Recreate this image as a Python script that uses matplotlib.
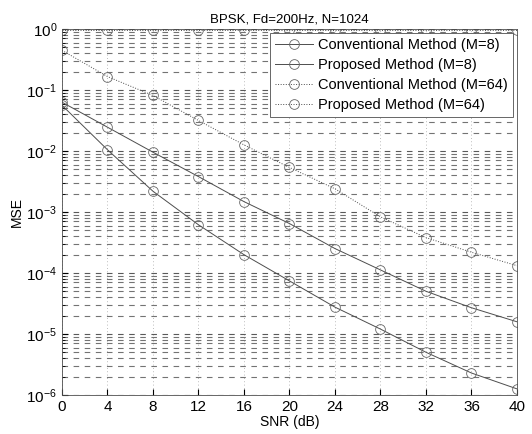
import numpy as np
import matplotlib
matplotlib.use("Agg")
import matplotlib.pyplot as plt
from matplotlib.ticker import LogLocator, NullFormatter

plt.rcParams["font.family"] = ["Liberation Sans", "DejaVu Sans"]

snr = [0, 4, 8, 12, 16, 20, 24, 28, 32, 36, 40]

# log10(MSE)
conv_m8 = [-1.20, -1.61, -2.02, -2.42, -2.83, -3.19, -3.60, -3.95, -4.30, -4.57, -4.80]
prop_m8 = [-1.25, -1.98, -2.66, -3.21, -3.70, -4.13, -4.56, -4.92, -5.30, -5.64, -5.90]
conv_m64 = [-0.01, -0.01, -0.01, -0.01, -0.01, -0.01, -0.01, -0.01, -0.01, -0.01, -0.01]
prop_m64 = [-0.35, -0.78, -1.09, -1.50, -1.90, -2.27, -2.62, -3.08, -3.42, -3.66, -3.88]

labels = ["Conventional Method (M=8)", "Proposed Method (M=8)",
          "Conventional Method (M=64)", "Proposed Method (M=64)"]

fig = plt.figure(figsize=(5.32, 4.34), dpi=100)
ax = fig.add_axes([0.1165, 0.0899, 0.8553, 0.8433])

x = np.array(snr)
series = [conv_m8, prop_m8, conv_m64, prop_m64]
styles = ["-", "-", ":", ":"]
for vals, ls, lab in zip(series, styles, labels):
    ax.semilogy(x, 10 ** np.array(vals), linestyle=ls, color="0.3", lw=0.7,
                marker="o", markersize=7, markerfacecolor="none",
                markeredgecolor="0.4", markeredgewidth=0.6, label=lab)

ax.set_xlim(0, 40)
ax.set_ylim(1e-6, 1)
ax.set_xticks(snr)
ax.yaxis.set_major_locator(LogLocator(base=10, numticks=10))
ax.yaxis.set_minor_locator(LogLocator(base=10, subs=np.arange(2, 10), numticks=10))
ax.yaxis.set_minor_formatter(NullFormatter())
ax.tick_params(axis="both", which="major", labelsize=11, direction="in", length=4)
ax.tick_params(axis="y", which="minor", direction="in", length=2)

ax.grid(True, which="major", axis="y", color="0.35", linestyle=(0, (5, 5)), lw=0.8)
ax.grid(True, which="minor", axis="y", color="0.45", linestyle=(0, (5, 5)), lw=0.8)
ax.grid(True, which="major", axis="x", color="0.65", linestyle=(0, (1, 3)), lw=0.6)

for s in ax.spines.values():
    s.set_linewidth(0.6)
    s.set_color("0.3")

ax.set_title("BPSK, Fd=200Hz, N=1024", fontsize=9.5, pad=5)
ax.set_xlabel("SNR (dB)", fontsize=10, labelpad=1)
ax.set_ylabel("MSE", fontsize=10, labelpad=2)

leg = ax.legend(loc="upper right", fontsize=10.5, frameon=True, fancybox=False,
                edgecolor="0.3", framealpha=1, borderaxespad=0.3,
                handlelength=2.6, labelspacing=0.4, borderpad=0.35,
                handletextpad=0.35)
leg.get_frame().set_linewidth(0.6)

fig.savefig("out.png", dpi=100)
